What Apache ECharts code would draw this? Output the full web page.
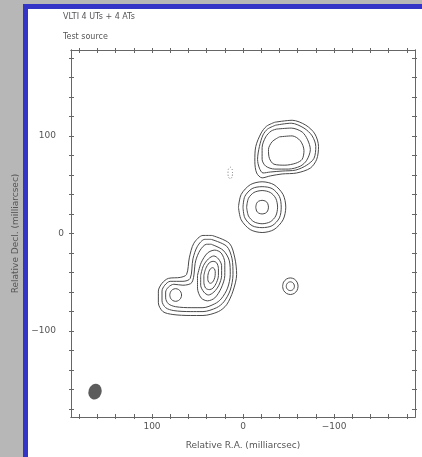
<!DOCTYPE html>
<html><head><meta charset="utf-8">
<script src="https://cdn.jsdelivr.net/npm/echarts@6/dist/echarts.min.js"></script>
<style>html,body{margin:0;padding:0;background:#fff}#c{width:422px;height:457px}</style>
</head><body><div id="c"></div>
<script>
// ---- text ----
const titleLines = ['VLTI 4 UTs + 4 ATs', 'Test source'];
const xAxisTitle = 'Relative R.A. (milliarcsec)';
const yAxisTitle = 'Relative Decl. (milliarcsec)';
// ---- axes ----
const xRange = [-189, 189];
const yRange = [-188, 188];
const labelValues = [-100, 0, 100];
const labelTexts = ['\u2212100', '0', '100'];
const tickValues = [-180,-160,-140,-120,-100,-80,-60,-40,-20,0,20,40,60,80,100,120,140,160,180];
// ---- contours [R.A. offset, Decl. offset] in milliarcsec ----
const contourNE1 = [[-35,114],[-54,116],[-69,111],[-79,102],[-83,89],[-81,76],[-74,67],[-59,62],[-43,61],[-30,59],[-21,57],[-15,62],[-13,74],[-14,89],[-20,103],[-26,110],[-35,114]];
const contourNE2 = [[-36,111],[-53,113],[-67,108],[-76,100],[-80,89],[-78,77],[-70,70],[-58,65],[-43,64],[-30,63],[-22,62],[-18,67],[-16,76],[-18,89],[-22,101],[-27,107],[-36,111]];
const contourNE3 = [[-37,107],[-53,108],[-65,104],[-71,96],[-74,86],[-70,75],[-63,69],[-50,66],[-35,66],[-25,69],[-21,76],[-21,88],[-25,99],[-31,105],[-37,107]];
const contourNE4 = [[-40,99],[-54,100],[-63,95],[-67,85],[-65,76],[-58,72],[-46,70],[-34,71],[-29,77],[-28,86],[-32,94],[-40,99]];
const contourMid1 = [[5,27],[2,40],[-8,50],[-21,53],[-34,50],[-44,40],[-47,27],[-44,14],[-34,4],[-21,1],[-8,4],[2,14],[5,27]];
const contourMid2 = [[0,27],[-2,38],[-10,46],[-21,48],[-32,46],[-40,38],[-42,27],[-40,16],[-32,8],[-21,6],[-10,8],[-2,16],[0,27]];
const contourMid3 = [[-4,27],[-6,36],[-12,42],[-21,44],[-30,42],[-36,36],[-38,27],[-36,18],[-30,12],[-21,10],[-12,12],[-6,18],[-4,27]];
const contourMid4 = [[-14,27],[-15,31],[-17,33],[-21,34],[-25,33],[-27,31],[-28,27],[-27,23],[-25,21],[-21,20],[-17,21],[-15,23],[-14,27]];
const contourSW1 = [[34,-2],[15,-10],[9,-25],[7,-42],[11,-59],[18,-73],[27,-80],[44,-84],[58,-84],[77,-83],[88,-80],[93,-71],[93,-59],[89,-51],[82,-46],[69,-45],[62,-42],[59,-25],[54,-10],[44,-2],[34,-2]];
const contourSW2 = [[35,-6],[18,-13],[12,-26],[11,-42],[14,-58],[21,-70],[29,-76],[44,-80],[58,-80],[76,-79],[85,-76],[89,-69],[89,-59],[86,-53],[80,-49],[66,-49],[58,-46],[55,-26],[50,-13],[42,-6],[35,-6]];
const contourSW3 = [[35,-11],[22,-17],[15,-28],[14,-42],[17,-56],[24,-67],[31,-72],[44,-76],[57,-76],[74,-75],[82,-72],[85,-66],[85,-60],[82,-55],[76,-52],[66,-53],[56,-50],[52,-28],[47,-17],[40,-11],[35,-11]];
const contourSW4 = [[50,-43],[46,-30],[39,-20],[31,-17],[24,-20],[20,-30],[20,-43],[24,-56],[31,-66],[39,-69],[46,-66],[50,-56],[50,-43]];
const contourSW5 = [[46.5,-43],[43.5,-33],[38,-26],[32,-23],[27,-26],[23.5,-33],[23.5,-43],[26.5,-53],[32,-60],[38,-63],[43,-60],[46.5,-53],[46.5,-43]];
const contourSW6 = [[43,-43],[41,-36],[37,-30],[33,-28.5],[29,-30],[27,-36],[27,-43],[29,-50],[33,-56],[37,-57.5],[41,-56],[43,-50],[43,-43]];
const contourSW7 = [[38.6,-43],[37.5,-39],[35.6,-36],[33.4,-35],[31.6,-36],[30.5,-39],[30.6,-43],[31.7,-47],[33.6,-50],[35.8,-51],[37.6,-50],[38.7,-47],[38.6,-43]];
const contourSWb = [[80.5,-63],[79.6,-59.8],[77.3,-57.4],[74,-56.5],[70.8,-57.4],[68.4,-59.8],[67.5,-63],[68.4,-66.3],[70.8,-68.6],[74,-69.5],[77.3,-68.6],[79.6,-66.3],[80.5,-63]];
const contourS1 = [[-43.5,-54],[-44.6,-49.8],[-47.8,-46.6],[-52,-45.5],[-56.3,-46.6],[-59.4,-49.8],[-60.5,-54],[-59.4,-58.3],[-56.3,-61.4],[-52,-62.5],[-47.8,-61.4],[-44.6,-58.3],[-43.5,-54]];
const contourS2 = [[-47.5,-54],[-48.1,-51.8],[-49.8,-50.1],[-52,-49.5],[-54.3,-50.1],[-55.9,-51.8],[-56.5,-54],[-55.9,-56.3],[-54.3,-57.9],[-52,-58.5],[-49.8,-57.9],[-48.1,-56.3],[-47.5,-54]];
const contourNeg = [[11.5,62],[12,66],[14,68],[16,66],[16.5,62],[16,58],[14,56],[12,58],[11.5,62]];
// ---- restoring beam centre [R.A., Decl.] ----
const beam = [[162.6, -162]];

const solidContours = [contourNE1, contourNE2, contourNE3, contourNE4,
  contourMid1, contourMid2, contourMid3, contourMid4,
  contourSW1, contourSW2, contourSW3, contourSW4, contourSW5, contourSW6, contourSW7, contourSWb,
  contourS1, contourS2];
const dashedContours = [contourNeg];

const FONT = 'DejaVu Sans';
const AX = '#666';
const TXT = '#555';

function fmtX(v) { const i = labelValues.indexOf(v); return i >= 0 ? labelTexts[i] : ''; }
function fmtY(v) { const t = fmtX(v); return v === 0 ? '{z|' + t + '}' : '{n|' + t + '}'; }

function xAx(pos, inside, main) {
  return {
    type: 'value', position: pos, inverse: true, min: xRange[0], max: xRange[1],
    axisLine: { show: true, onZero: false, lineStyle: { color: AX, width: 1 } },
    axisTick: { show: true, inside: inside, length: inside ? 3 : 2, customValues: tickValues, lineStyle: { color: AX, width: 1 } },
    axisLabel: main ? { show: true, customValues: labelValues, formatter: fmtX, color: TXT, fontSize: 9, fontFamily: FONT, margin: 5 } : { show: false },
    splitLine: { show: false },
    name: main ? xAxisTitle : '', nameLocation: 'middle', nameGap: 24,
    nameTextStyle: { color: TXT, fontSize: 9, fontFamily: FONT }
  };
}
function yAx(pos, inside, main) {
  return {
    type: 'value', position: pos, min: yRange[0], max: yRange[1],
    axisLine: { show: true, onZero: false, lineStyle: { color: AX, width: 1 } },
    axisTick: { show: true, inside: inside, length: inside ? 3 : 2, customValues: tickValues, lineStyle: { color: AX, width: 1 } },
    axisLabel: main ? { show: true, customValues: labelValues, formatter: fmtY, color: TXT, fontSize: 9, fontFamily: FONT, margin: 7,
      rich: { n: { padding: [0, 8, 0, 0], color: TXT, fontSize: 9, fontFamily: FONT }, z: { color: TXT, fontSize: 9, fontFamily: FONT } } } : { show: false },
    splitLine: { show: false },
    name: main ? yAxisTitle : '', nameLocation: 'middle', nameGap: 31,
    nameTextStyle: { color: TXT, fontSize: 9, fontFamily: FONT }
  };
}

const series = [];
solidContours.forEach(c => series.push({
  type: 'line', data: c, xAxisIndex: 0, yAxisIndex: 0, showSymbol: false, symbol: 'none',
  smooth: 0.3, silent: true, lineStyle: { color: '#4a4a4a', width: 1 }
}));
dashedContours.forEach(c => series.push({
  type: 'line', data: c, xAxisIndex: 0, yAxisIndex: 0, showSymbol: false, symbol: 'none',
  smooth: 0.3, silent: true, lineStyle: { color: '#777', width: 1, type: [1, 2] }
}));
series.push({
  type: 'scatter', data: beam, xAxisIndex: 0, yAxisIndex: 0, symbol: 'circle',
  symbolSize: [13, 16], symbolRotate: -18, silent: true, itemStyle: { color: '#333' }
});

const chart = echarts.init(document.getElementById('c'), null, { renderer: 'canvas' });
chart.setOption({
  animation: false,
  backgroundColor: '#fff',
  grid: { left: 71, right: 7, top: 50, bottom: 40 },
  xAxis: [xAx('bottom', false, true), xAx('bottom', true, false), xAx('top', false, false), xAx('top', true, false)],
  yAxis: [yAx('left', false, true), yAx('left', true, false), yAx('right', false, false), yAx('right', true, false)],
  graphic: [
    { type: 'rect', shape: { x: 0, y: 0, width: 23, height: 457 }, style: { fill: '#b7b7b7' }, silent: true },
    { type: 'rect', shape: { x: 0, y: 0, width: 422, height: 4 }, style: { fill: '#b7b7b7' }, silent: true },
    { type: 'rect', shape: { x: 23, y: 4, width: 399, height: 5 }, style: { fill: '#3434c6' }, silent: true },
    { type: 'rect', shape: { x: 23, y: 4, width: 5, height: 453 }, style: { fill: '#3434c6' }, silent: true },
    { type: 'text', x: 63, y: 17, style: { text: titleLines[0], fill: TXT, font: '8px "DejaVu Sans"', verticalAlign: 'middle' }, silent: true },
    { type: 'text', x: 63, y: 37, style: { text: titleLines[1], fill: TXT, font: '8px "DejaVu Sans"', verticalAlign: 'middle' }, silent: true }
  ],
  series: series
});
</script>
</body></html>
